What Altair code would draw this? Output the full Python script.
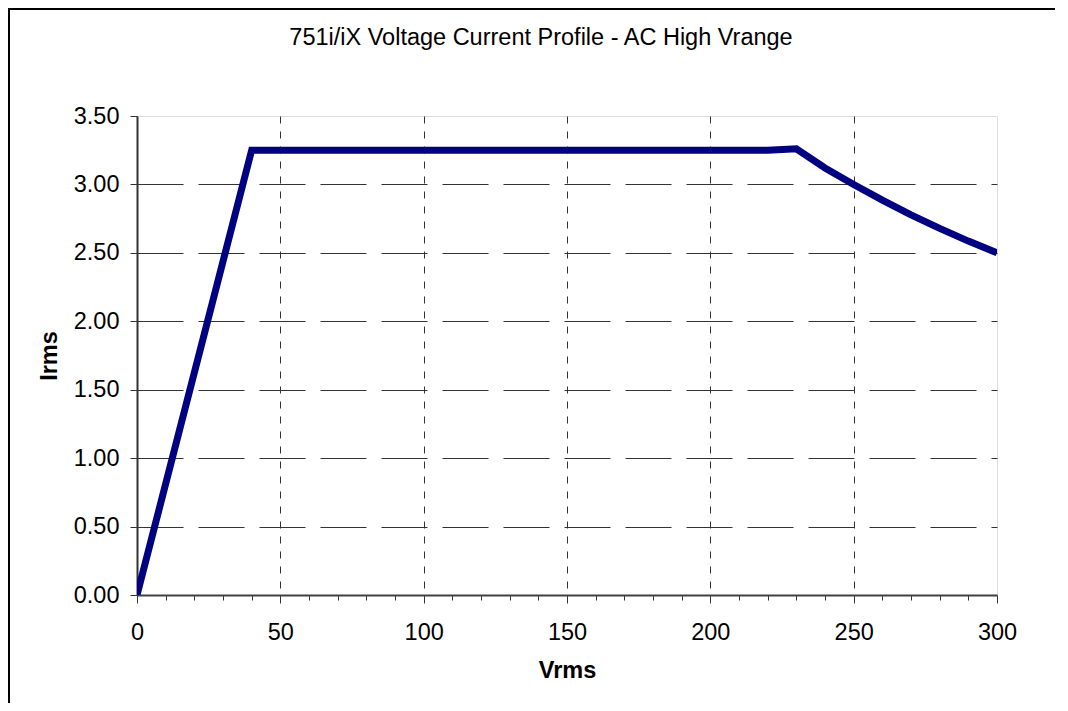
import altair as alt
import pandas as pd

# Data
vrms = [0, 40, 220, 230, 240, 250, 260, 270, 280, 290, 300]
irms = [0.0, 3.25, 3.25, 3.26, 3.12, 3.0, 2.885, 2.778, 2.679, 2.586, 2.5]

x_tick_values = list(range(0, 301, 10))
y_tick_values = [0.0, 0.5, 1.0, 1.5, 2.0, 2.5, 3.0, 3.5]

title_text = "751i/iX Voltage Current Profile - AC High Vrange"
x_title = "Vrms"
y_title = "Irms"

df = pd.DataFrame({"Vrms": vrms, "Irms": irms})

W, H = 860, 479
FONT = "Liberation Sans"
FS = 23.5

# outer chart-area frame: only its left and top edges lie inside the picture
frame_left = alt.Chart(alt.Data(values=[{}])).mark_rule(
    stroke="black", strokeWidth=2
).encode(
    x=alt.value(-128), y=alt.value(-107), y2=alt.value(587)
)
frame_top = alt.Chart(alt.Data(values=[{}])).mark_rule(
    stroke="black", strokeWidth=2
).encode(
    x=alt.value(-129), x2=alt.value(923), y=alt.value(-107)
)

title = alt.Chart(alt.Data(values=[{"t": title_text}])).mark_text(
    font=FONT, fontSize=FS, color="black", align="center", baseline="alphabetic"
).encode(
    text="t:N", x=alt.value(404), y=alt.value(-71)
)

line = alt.Chart(df).mark_line(
    color="#000080", strokeWidth=7, clip=True, strokeJoin="miter"
).encode(
    x=alt.X(
        "Vrms:Q",
        scale=alt.Scale(domain=[0, 300], nice=False, zero=False),
        axis=alt.Axis(
            values=x_tick_values,
            labelExpr="datum.value % 50 === 0 ? datum.label : ''",
            format="d",
            title=x_title,
            titleFontSize=FS,
            titleFontWeight="bold",
            titleFont=FONT,
            titleColor="black",
            titleY=82,
            titleBaseline="alphabetic",
            labelFontSize=FS,
            labelFont=FONT,
            labelColor="black",
            labelPadding=17,
            labelFlush=False,
            labelOverlap=False,
            tickSize={"condition": {"test": "datum.value % 50 === 0", "value": 8}, "value": 5},
            tickColor="#333333",
            tickWidth=1,
            domainColor="#404040",
            domainWidth=2,
            grid=True,
            gridColor="#333333",
            gridWidth=1,
            gridDash=[7, 8],
            gridOpacity={
                "condition": {
                    "test": "datum.value % 50 === 0 && datum.value > 0 && datum.value < 300",
                    "value": 1,
                },
                "value": 0,
            },
        ),
    ),
    y=alt.Y(
        "Irms:Q",
        scale=alt.Scale(domain=[0, 3.5], nice=False),
        axis=alt.Axis(
            values=y_tick_values,
            format=".2f",
            title=y_title,
            titleFontSize=FS,
            titleFontWeight="bold",
            titleFont=FONT,
            titleColor="black",
            titleAngle=-90,
            titleX=-81,
            titleY=H / 2,
            titleAlign="center",
            titleBaseline="alphabetic",
            labelFontSize=FS,
            labelFont=FONT,
            labelColor="black",
            labelPadding=11,
            labelFlush=False,
            labelOverlap=False,
            tickSize=7,
            tickColor="#333333",
            tickWidth=1,
            domainColor="#333333",
            domainWidth=2,
            grid=True,
            gridColor="#333333",
            gridWidth=1,
            gridDash=[46, 15],
            gridOpacity={
                "condition": {"test": "datum.value > 0 && datum.value < 3.5", "value": 1},
                "value": 0,
            },
        ),
    ),
)

chart = alt.layer(frame_left, frame_top, title, line).properties(
    width=W,
    height=H,
    padding={"left": 129, "top": 108, "right": 58, "bottom": 108},
    autosize=alt.AutoSizeParams(type="none"),
).configure_view(
    stroke="#808080", strokeWidth=2
).configure(
    font=FONT, background="white"
)

chart.save("out.html", embed_options={"renderer": "svg", "actions": False})
